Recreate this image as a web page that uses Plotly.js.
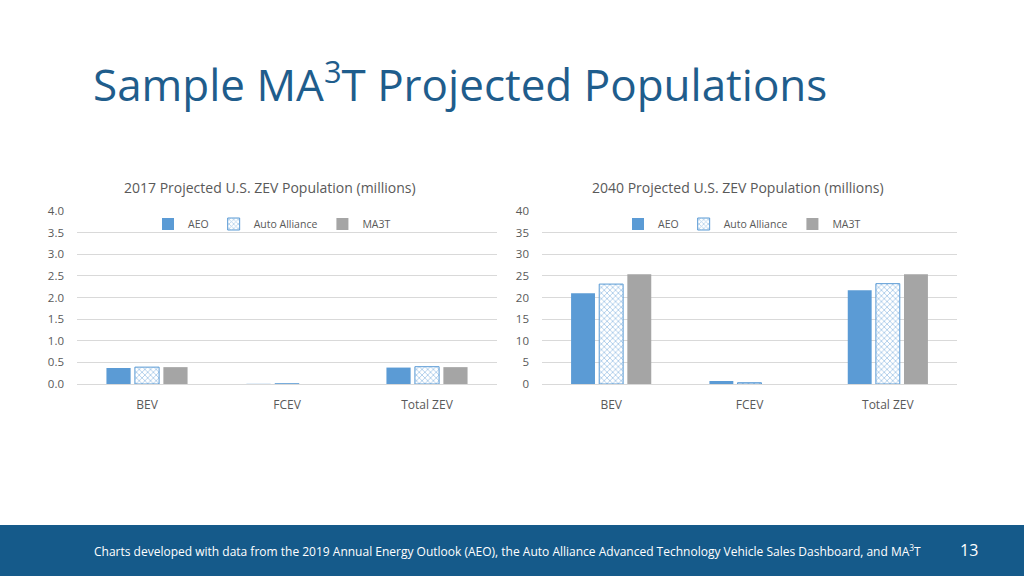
<!DOCTYPE html>
<html>
<head>
<meta charset="utf-8">
<script src="https://cdn.plot.ly/plotly-3.0.1.min.js"></script>
<style>
html,body{margin:0;padding:0;background:#fff;}
#chart{width:1024px;height:576px;}
</style>
</head>
<body>
<div id="chart"></div>
<script>
const categories = ["BEV", "FCEV", "Total ZEV"];
const seriesNames = ["AEO", "Auto Alliance", "MA3T"];
// 2017 values (millions)
const aeo2017 = [0.37, 0.004, 0.38];
const alliance2017 = [0.39, 0.003, 0.40];
const ma3t2017 = [0.39, 0.0, 0.39];
// 2040 values (millions)
const aeo2040 = [21.0, 0.7, 21.7];
const alliance2040 = [23.1, 0.3, 23.2];
const ma3t2040 = [25.4, 0.0, 25.4];
const leftTicks = [0, 0.5, 1.0, 1.5, 2.0, 2.5, 3.0, 3.5, 4.0];
const rightTicks = [0, 5, 10, 15, 20, 25, 30, 35, 40];

const blue = "#5B9BD5", grey = "#A5A5A5", txt = "#595959";
const font = "Open Sans, Noto Sans, sans-serif";

function bar(name, y, xa, ya, legend, kind) {
  const t = {type: "bar", name: name, x: categories, y: y, xaxis: xa, yaxis: ya, legend: legend, hoverinfo: "skip"};
  if (kind === 0) t.marker = {color: blue};
  else if (kind === 1) t.marker = {color: "#ffffff", line: {color: blue, width: 1},
      pattern: {shape: "x", fgcolor: blue, bgcolor: "#ffffff", size: 4, solidity: 0.4, fillmode: "overlay"}};
  else t.marker = {color: grey};
  return t;
}

const data = [
  bar(seriesNames[0], aeo2017, "x", "y", "legend", 0),
  bar(seriesNames[1], alliance2017, "x", "y", "legend", 1),
  bar(seriesNames[2], ma3t2017, "x", "y", "legend", 2),
  bar(seriesNames[0], aeo2040, "x2", "y2", "legend2", 0),
  bar(seriesNames[1], alliance2040, "x2", "y2", "legend2", 1),
  bar(seriesNames[2], ma3t2040, "x2", "y2", "legend2", 2)
];

const W = 1024, H = 576;
const px = v => v / W, py = v => 1 - v / H;

const yCommon = {showline: false, zeroline: false, gridcolor: "#D9D9D9", gridwidth: 1,
  ticks: "", tickfont: {size: 11.5, color: txt, family: font}, fixedrange: true, ticklabelstandoff: 12};
const xCommon = {showline: true, linecolor: "#D9D9D9", linewidth: 1, ticks: "",
  tickfont: {size: 12, color: txt, family: font}, showgrid: false, zeroline: false, ticklabelstandoff: 10};

const legendCommon = {orientation: "h", yanchor: "middle", xanchor: "center",
  font: {size: 10.5, color: txt, family: font}, bgcolor: "rgba(0,0,0,0)", itemwidth: 30,
  traceorder: "normal", tracegroupgap: 0};

const layout = {
  width: W, height: H,
  margin: {l: 0, r: 0, t: 0, b: 0},
  paper_bgcolor: "#ffffff", plot_bgcolor: "#ffffff",
  font: {family: font, color: txt},
  barmode: "group", bargap: 0.39, bargroupgap: 0.15,
  showlegend: true,
  xaxis: Object.assign({}, xCommon, {domain: [px(77), px(497)], anchor: "y"}),
  yaxis: Object.assign({}, yCommon, {domain: [py(384), py(211)], anchor: "x", range: [0, 4],
    tickvals: leftTicks, tickformat: ".1f"}),
  xaxis2: Object.assign({}, xCommon, {domain: [px(542), px(957)], anchor: "y2"}),
  yaxis2: Object.assign({}, yCommon, {domain: [py(384), py(211)], anchor: "x2", range: [0, 40],
    tickvals: rightTicks, tickformat: "d"}),
  legend: Object.assign({}, legendCommon, {x: px(272), y: py(224)}),
  legend2: Object.assign({}, legendCommon, {x: px(742), y: py(224)}),
  shapes: [
    {type: "rect", xref: "paper", yref: "paper", x0: 0, x1: 1, y0: 0, y1: py(525),
     fillcolor: "#155A8A", line: {width: 0}, layer: "below"}
  ],
  annotations: [
    {text: "Sample MA<sup>3</sup>T Projected Populations", xref: "paper", yref: "paper",
     x: px(91), y: py(82), xanchor: "left", yanchor: "middle", showarrow: false,
     font: {size: 44, color: "#1F5D8C", family: font}},
    {text: "2017 Projected U.S. ZEV Population (millions)", xref: "paper", yref: "paper",
     x: px(270), y: py(187), xanchor: "center", yanchor: "middle", showarrow: false,
     font: {size: 14, color: txt, family: font}},
    {text: "2040 Projected U.S. ZEV Population (millions)", xref: "paper", yref: "paper",
     x: px(738), y: py(187), xanchor: "center", yanchor: "middle", showarrow: false,
     font: {size: 14, color: txt, family: font}},
    {text: "Charts developed with data from the 2019 Annual Energy Outlook (AEO), the Auto Alliance Advanced Technology Vehicle Sales Dashboard, and MA<sup>3</sup>T",
     xref: "paper", yref: "paper", x: px(92), y: py(551), xanchor: "left", yanchor: "middle", showarrow: false,
     font: {size: 12, color: "#ffffff", family: font}},
    {text: "13", xref: "paper", yref: "paper", x: px(969), y: py(550), xanchor: "center", yanchor: "middle",
     showarrow: false, font: {size: 16, color: "#ffffff", family: font}}
  ]
};

Plotly.newPlot("chart", data, layout, {displayModeBar: false, staticPlot: true});
</script>
</body>
</html>
